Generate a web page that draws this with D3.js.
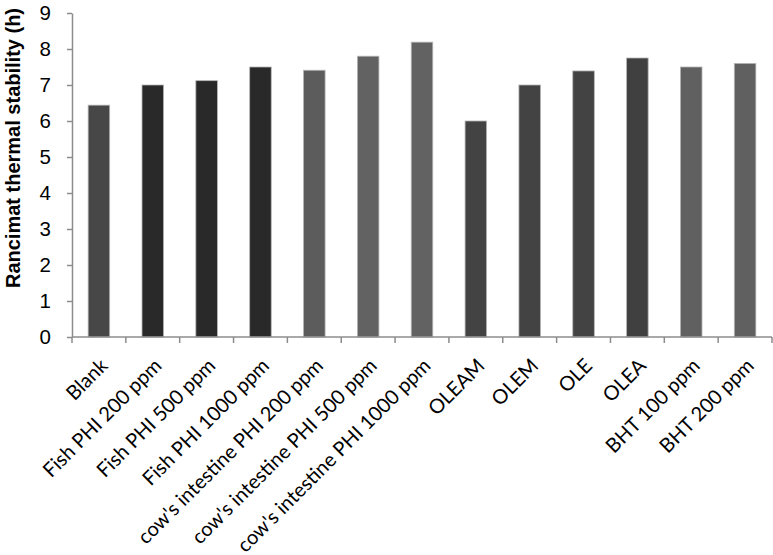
<!DOCTYPE html>
<meta charset="utf-8">
<head>
    <title>Rancimat thermal stability</title>
    <script src="https://d3js.org/d3.v7.min.js"></script>
    <style>
        body { margin: 0; background: #ffffff; }
    </style>
</head>
<body>
<div id="chart"></div>
<script>

// chart data
var categories = ["Blank", "Fish PHI 200 ppm", "Fish PHI 500 ppm", "Fish PHI 1000 ppm",
    "cow's intestine PHI 200 ppm", "cow's intestine PHI 500 ppm", "cow's intestine PHI 1000 ppm",
    "OLEAM", "OLEM", "OLE", "OLEA", "BHT 100 ppm", "BHT 200 ppm"];
var values = [6.44, 7.0, 7.12, 7.5, 7.41, 7.8, 8.19, 6.0, 7.0, 7.39, 7.75, 7.5, 7.6];
var barColors = ["#474747", "#292929", "#292929", "#292929", "#5c5c5c", "#626262", "#626262",
    "#434343", "#434343", "#434343", "#404040", "#606060", "#606060"];
var yTicks = [0, 1, 2, 3, 4, 5, 6, 7, 8, 9];
var yTitle = "Rancimat thermal stability (h)";

var margin = {top: 13, right: 1, bottom: 218, left: 72},
    width = 773 - margin.left - margin.right,
    height = 555 - margin.top - margin.bottom;

var svg = d3.select("#chart")
    .append("svg")
    .attr("width", 773)
    .attr("height", 555)
    .append("g")
    .attr("transform", "translate(" + margin.left + "," + margin.top + ")");

var x = d3.scaleBand()
    .domain(categories)
    .range([0, width])
    .paddingInner(0.6)
    .paddingOuter(0.3);

var y = d3.scaleLinear()
    .domain([0, 9])
    .range([height, 0]);

var axisColor = "#8c8c8c";

// bars
svg.selectAll(".bar")
    .data(values)
    .enter()
    .append("rect")
    .attr("class", "bar")
    .attr("x", function(d, i) { return x(categories[i]); })
    .attr("width", x.bandwidth())
    .attr("y", function(d) { return y(d); })
    .attr("height", function(d) { return y(0) - y(d); })
    .style("fill", function(d, i) { return barColors[i]; })
    .style("stroke", "#b5b5b5")
    .style("stroke-width", 0.8);

// Y axis
var yAxis = svg.append("g")
    .call(d3.axisLeft(y).tickValues(yTicks).tickSize(5).tickPadding(16).tickSizeOuter(0));
yAxis.select(".domain").attr("stroke", axisColor).attr("stroke-width", 1.5);
yAxis.selectAll(".tick line").attr("stroke", axisColor).attr("stroke-width", 1.5);
yAxis.selectAll(".tick text")
    .style("font-family", "'Liberation Sans', Arial, sans-serif")
    .style("font-size", "20.5px")
    .attr("fill", "#000");

// X axis line and boundary ticks
var half = (x.step() - x.bandwidth()) / 2;
svg.append("line")
    .attr("x1", 0).attr("x2", width)
    .attr("y1", height).attr("y2", height)
    .attr("stroke", axisColor).attr("stroke-width", 1.5);
var bounds = categories.map(function(c) { return x(c) - half; }).concat([width]);
svg.selectAll(".xtick")
    .data(bounds)
    .enter()
    .append("line")
    .attr("x1", function(d) { return d; }).attr("x2", function(d) { return d; })
    .attr("y1", height).attr("y2", height + 6)
    .attr("stroke", axisColor).attr("stroke-width", 1.5);

// X labels
svg.selectAll(".xlabel")
    .data(categories)
    .enter()
    .append("text")
    .attr("text-anchor", "end")
    .attr("transform", function(d) {
        return "translate(" + (x(d) + x.bandwidth() / 2 + 10) + "," + (height + 30) + ") rotate(-45)";
    })
    .style("font-family", "Lato, 'Open Sans', sans-serif")
    .style("font-size", "20px")
    .text(function(d) { return d; });

// Y title
svg.append("text")
    .attr("text-anchor", "middle")
    .attr("transform", "rotate(-90)")
    .attr("x", -(148 - margin.top))
    .attr("y", -margin.left + 20)
    .style("font-family", "'Liberation Sans', Arial, sans-serif")
    .style("font-weight", "bold")
    .style("font-size", "20px")
    .text(yTitle);

</script>
</body>
</html>
